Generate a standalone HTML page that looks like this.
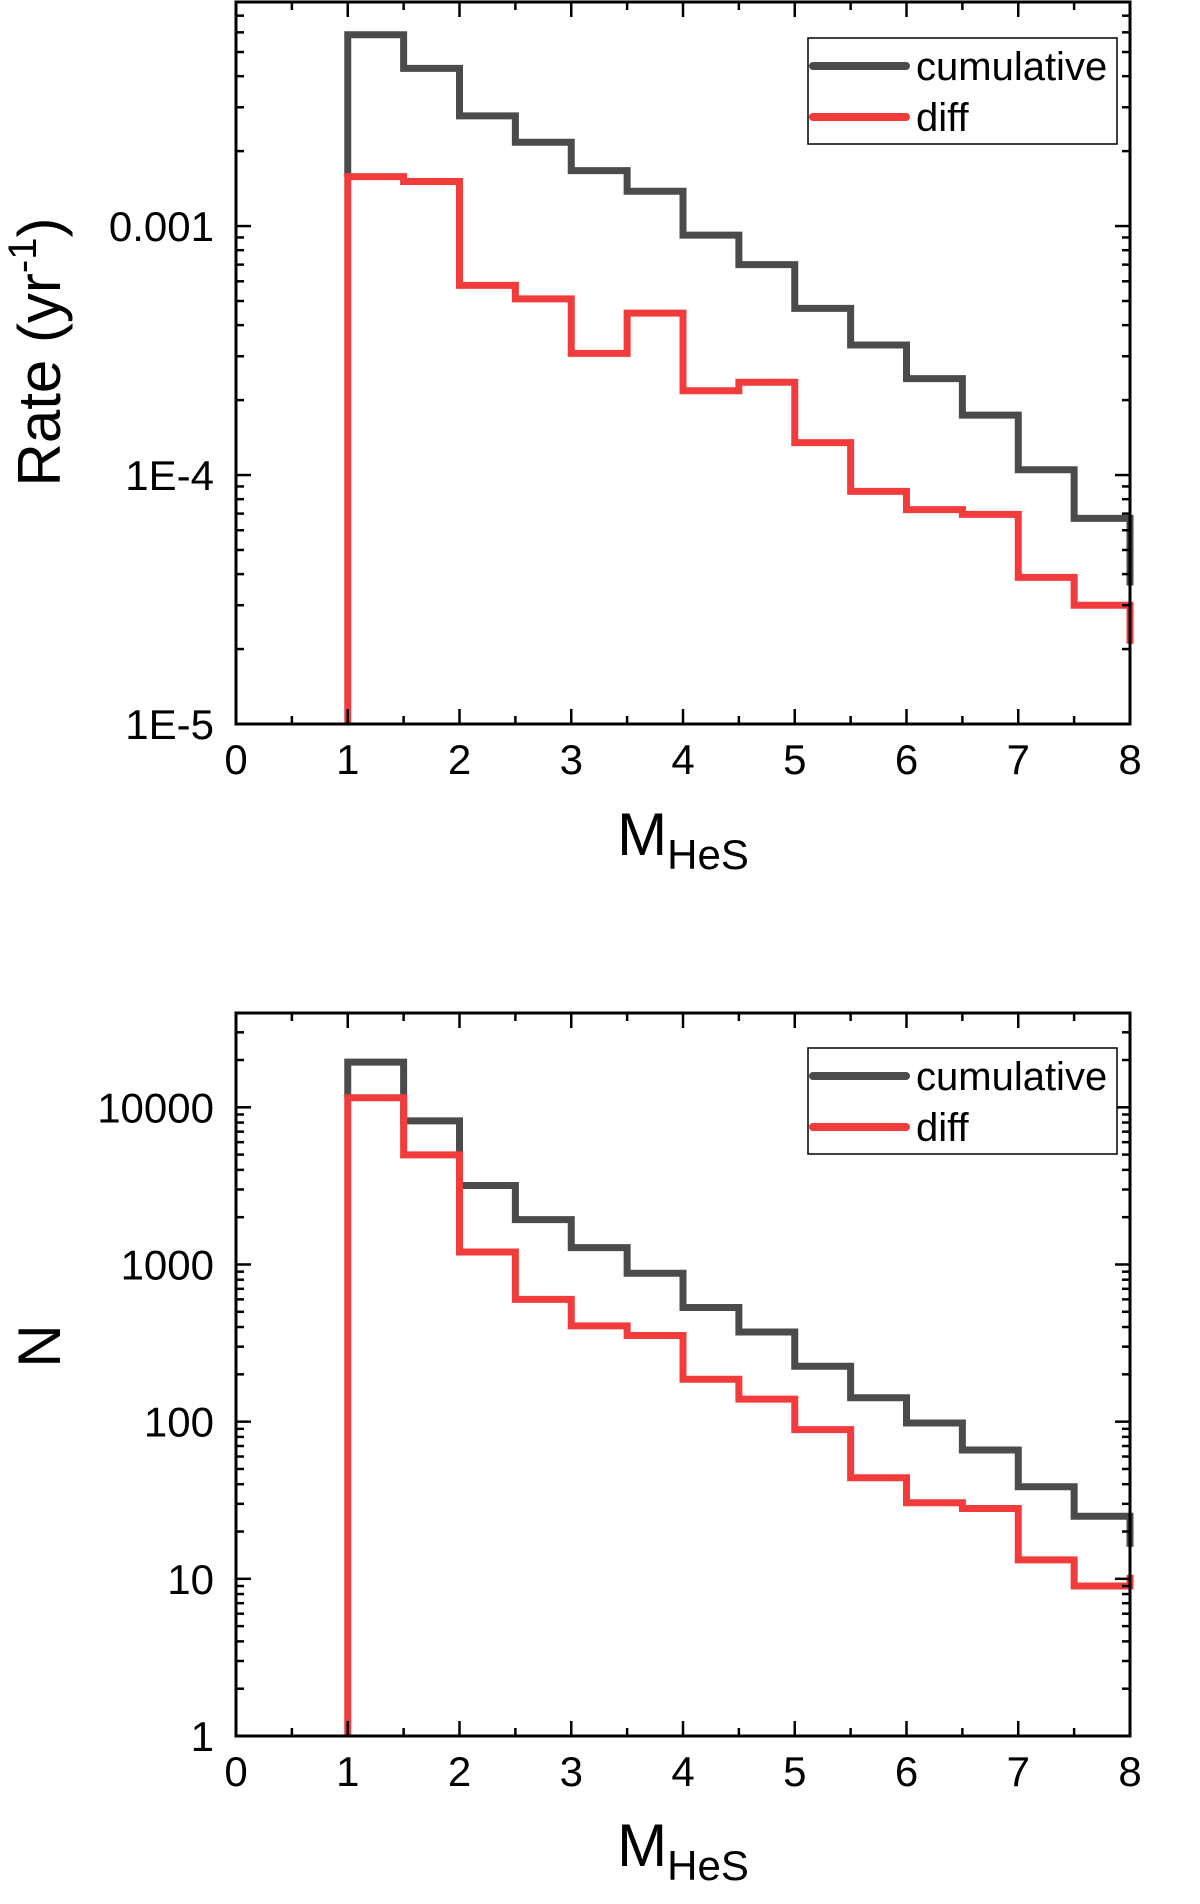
<!DOCTYPE html>
<html><head><meta charset="utf-8"><style>
html,body{margin:0;padding:0;background:#fff;}
svg{display:block;}
text{font-family:"Liberation Sans",Arial,sans-serif;fill:#000;}
</style></head><body>
<svg id="chart" width="1200" height="1904" viewBox="0 0 1200 1904" xmlns="http://www.w3.org/2000/svg"></svg>
<script>
const binEdges = [1,1.5,2,2.5,3,3.5,4,4.5,5,5.5,6,6.5,7,7.5,8];
const rateCumulative = [5.87e-3,4.3e-3,2.77e-3,2.17e-3,1.67e-3,1.38e-3,9.2e-4,7.0e-4,4.67e-4,3.33e-4,2.44e-4,1.74e-4,1.05e-4,6.7e-5];
const rateCumulativeEnd = 3.6e-5;
const rateDiff = [1.58e-3,1.51e-3,5.78e-4,5.1e-4,3.08e-4,4.47e-4,2.18e-4,2.36e-4,1.35e-4,8.6e-5,7.26e-5,6.95e-5,3.88e-5,3.0e-5];
const rateDiffEnd = 2.1e-5;
const countCumulative = [19400,8200,3180,1930,1280,880,532,372,225,142,98,66,38.5,25];
const countCumulativeEnd = 16;
const countDiff = [11500,4980,1200,600,407,353,186,139,89,44,30.5,28,13.2,9.0];
const countDiffEnd = 10.6;
const xTicks = [0,1,2,3,4,5,6,7,8];
const rateTickValues = [1e-5,1e-4,1e-3];
const rateTickLabels = ["1E-5","1E-4","0.001"];
const countTickValues = [1,10,100,1000,10000];
const countTickLabels = ["1","10","100","1000","10000"];

const NS = "http://www.w3.org/2000/svg";
const svg = document.getElementById("chart");
function el(tag, attrs, parent){
  const e = document.createElementNS(NS, tag);
  for (const k in attrs) e.setAttribute(k, attrs[k]);
  (parent||svg).appendChild(e);
  return e;
}

function panel(cfg){
  const g = el("g", {});
  
  
  const L=236, R=1130, T=cfg.top, B=cfg.bottom;
  const xs = v => L + (v-0)/(8-0)*(R-L);
  const ys = v => B - (Math.log10(v)-cfg.logMin)/(cfg.logMax-cfg.logMin)*(B-T);

  // series
  function series(vals, endVal, startVal, color, nm){
    let d = "M"+xs(binEdges[0])+","+ys(startVal);
    for (let i=0;i<vals.length;i++){
      d += " L"+xs(binEdges[i])+","+ys(vals[i])+" L"+xs(binEdges[i+1])+","+ys(vals[i]);
    }
    d += " L"+xs(binEdges[binEdges.length-1])+","+ys(endVal);
    const p = el("path",{d:d,fill:"none",stroke:color,"stroke-width":7,"stroke-linejoin":"miter"},g);
    
    
  }
  series(cfg.cum, cfg.cumEnd, cfg.diff[0], "#4b4b4b", "cumulative-line");
  series(cfg.diff, cfg.diffEnd, Math.pow(10,cfg.logMin), "#f23c3c", "diff-line");

  // frame
  const fr = el("rect",{x:L,y:T,width:R-L,height:B-T,fill:"none",stroke:"#000","stroke-width":3},g);
  
  

  // x ticks
  for (let v=0; v<=8; v+=0.5){
    const len = (v%1===0)?15:8;
    el("line",{x1:xs(v),x2:xs(v),y1:B,y2:B-len,stroke:"#000","stroke-width":2.5},g);
    el("line",{x1:xs(v),x2:xs(v),y1:T,y2:T+len,stroke:"#000","stroke-width":2.5},g);
  }
  xTicks.forEach(v=>{
    const t = el("text",{x:xs(v),y:B+50,"font-size":42,"text-anchor":"middle"},g);
    t.textContent = v;
    
    
  });
  // y ticks
  for (let e=cfg.logMin; e<cfg.logMax; e++){
    for (let m=1; m<10; m++){
      const v = m*Math.pow(10,e);
      if (Math.log10(v) > cfg.logMax) break;
      const len = m===1?15:8;
      el("line",{x1:L,x2:L+len,y1:ys(v),y2:ys(v),stroke:"#000","stroke-width":2.5},g);
      el("line",{x1:R,x2:R-len,y1:ys(v),y2:ys(v),stroke:"#000","stroke-width":2.5},g);
    }
  }
  cfg.tickValues.forEach((v,i)=>{
    const t = el("text",{x:L-22,y:ys(v)+15,"font-size":42,"text-anchor":"end"},g);
    t.textContent = cfg.tickLabels[i];
    
    
  });
  // x title
  const xt = el("text",{x:xs(4),y:cfg.xTitleY,"font-size":60,"text-anchor":"middle"},g);
  
  
  xt.innerHTML = 'M<tspan font-size="42" dy="14">HeS</tspan>';
  // y title
  const yt = el("text",{transform:"translate(60,"+cfg.yTitleY+") rotate(-90)","font-size":60,"text-anchor":"middle"},g);
  
  
  yt.innerHTML = cfg.yTitle;

  // legend
  const lg = el("g",{},g);
  
  
  const ly = cfg.legendTop;
  el("rect",{x:808,y:ly,width:309,height:106,fill:"#fff",stroke:"#000","stroke-width":1.5},lg);
  [["cumulative","#4b4b4b",28],["diff","#f23c3c",79]].forEach(([lab,col,dy])=>{
    el("line",{x1:813,x2:906,y1:ly+dy,y2:ly+dy,stroke:col,"stroke-width":8,"stroke-linecap":"round"},lg);
    const t = el("text",{x:916,y:ly+dy+14,"font-size":40},lg);
    t.textContent = lab;
    
    
  });
}

panel({name:"rate-panel", top:2, bottom:724, logMin:-5, logMax:-2.1,
  cum:rateCumulative, cumEnd:rateCumulativeEnd, diff:rateDiff, diffEnd:rateDiffEnd,
  tickValues:rateTickValues, tickLabels:rateTickLabels,
  xTitleY:855, yTitleY:352, yTitle:'Rate (yr<tspan font-size="40" dy="-24">-1</tspan><tspan dy="24">)</tspan>',
  legendTop:38});
panel({name:"count-panel", top:1013, bottom:1736, logMin:0, logMax:4.6,
  cum:countCumulative, cumEnd:countCumulativeEnd, diff:countDiff, diffEnd:countDiffEnd,
  tickValues:countTickValues, tickLabels:countTickLabels,
  xTitleY:1866, yTitleY:1346, yTitle:'N', legendTop:1048});
</script>
</body></html>
